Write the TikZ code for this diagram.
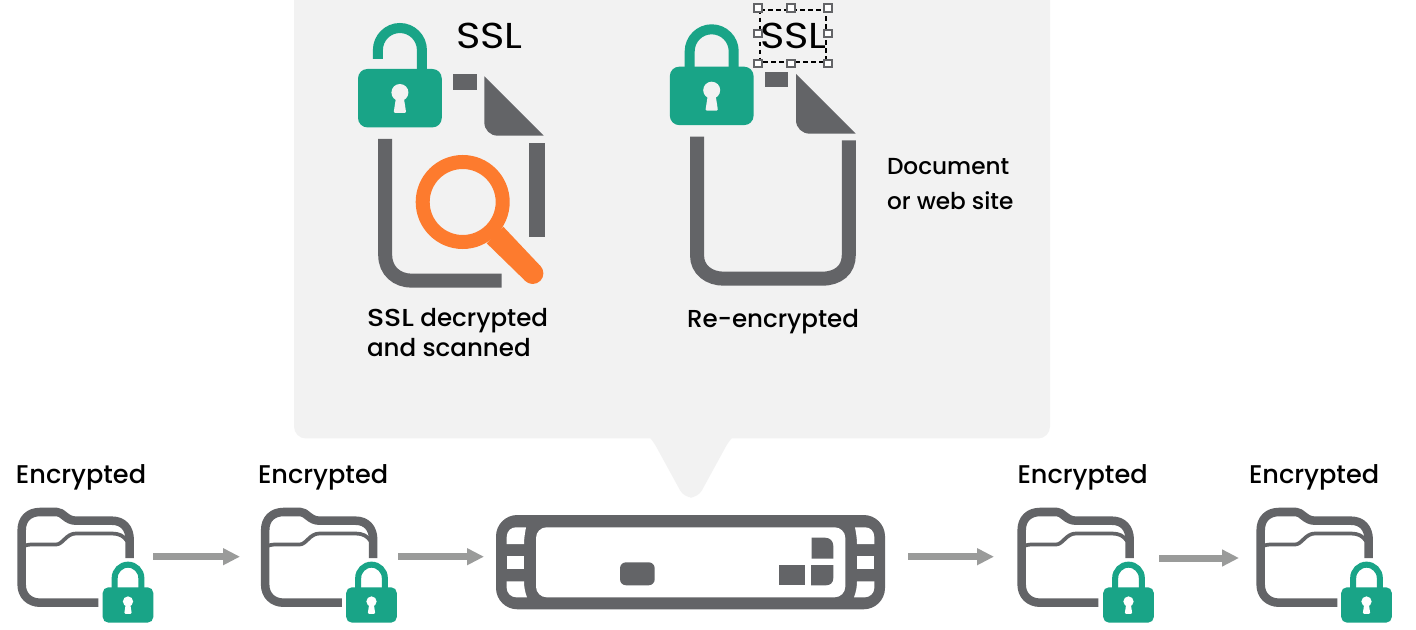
\documentclass[tikz,border=0pt]{standalone}
\usepackage{fontspec}
\setmainfont{Poppins}[UprightFont=* Medium]
\newfontface\sslface{Poppins Medium}[FakeStretch=1.16]
\newfontface\bigsslface{Poppins}[FakeStretch=1.15]
\usetikzlibrary{arrows.meta}
\definecolor{panel}{HTML}{F2F2F2}
\definecolor{slate}{HTML}{636467}
\definecolor{teal1}{HTML}{19A487}
\definecolor{orange1}{HTML}{FD7B2E}
\definecolor{arrowgray}{HTML}{9A9B9A}
\tikzset{
  x=0.75pt,y=-0.75pt,
  label/.style={inner sep=0pt,outer sep=0pt,text=black,font=\fontsize{19.2}{22.5}\selectfont,align=left},
  big/.style={inner sep=0pt,outer sep=0pt,text=black,font=\bigsslface\fontsize{27}{30}\selectfont},
  flow/.style={arrowgray,line width=5.25pt,-{Triangle[length=12.75pt,width=12pt]}},
  bar/.style={fill=slate,draw=none},
  stroke/.style={draw=slate,line width=10.5pt,line join=round},
  handle/.style={draw=slate,fill=white,line width=1.5pt,minimum size=0pt},
  hole/.style={fill=white,draw=none}
}
% #1 centre x, #2 body top y, #3 scale, #4 keyhole colour, #5 left-leg bottom y (local), #6 shackle lift
\newcommand{\lockicon}[6]{%
  \begin{scope}[shift={(#1,#2)},scale=#3]
    \pgfmathsetmacro\lsw{#3*7.5}
    \pgfmathsetmacro\lrc{#3*7}
    \pgfmathsetmacro\ltop{-37.4-#6}
    \pgfmathsetmacro\lleg{-15.4-#6}
    \pgfmathsetmacro\lctl{-27.5-#6}
    \draw[teal1,line width=\lsw pt]
      (-22,#5) -- (-22,\lleg) .. controls (-22,\lctl) and (-12.1,\ltop) .. (0,\ltop)
      .. controls (12.1,\ltop) and (22,\lctl) .. (22,\lleg) -- (22,2);
    \fill[teal1,rounded corners=\lrc pt] (-41.85,0) rectangle (41.85,58.4);
    \fill[#4] (0,23.5) circle (8.5);
    \fill[#4,rounded corners=1pt] (-3.5,26) -- (3.5,26) -- (6.3,44) -- (-6.3,44) -- cycle;
  \end{scope}}
% #1 x offset, #2 lock centre x
\newcommand{\foldericon}[2]{%
  \begin{scope}[shift={(#1,0)}]
    \draw[slate,line width=6.4pt,line join=round]
      (98.3,602.7) -- (40,602.7) .. controls (29,602.7) and (21.7,595) .. (21.7,585)
      -- (21.7,530) .. controls (21.7,519) and (29,512) .. (40,512)
      -- (57,512) .. controls (63,512) and (66,520.7) .. (76,520.7)
      -- (112,520.7) .. controls (123,520.7) and (129.7,528) .. (129.7,540) -- (129.7,558);
    \draw[slate,line width=2.8pt]
      (24,546) .. controls (28,544.5) and (30,544.5) .. (34,544.5)
      -- (56,544.5) .. controls (63,544.5) and (66,533.5) .. (76,533.5)
      -- (112,533.5) .. controls (119,533.5) and (124,536) .. (127,541);
  \end{scope}
  \lockicon{#2}{587.3}{0.605}{white}{2}{0}}
\begin{document}
\begin{tikzpicture}
\useasboundingbox (0,0) rectangle (1416,630);
\fill[white] (0,0) rectangle (1416,630);

% callout panel
\fill[panel,rounded corners=9pt]
  (294,-30) -- (294,438.5) -- (1050,438.5) -- (1050,-30) -- cycle;
\fill[panel,rounded corners=6pt]
  (642,430) -- (652,439) -- (684,497.5) -- (698,497.5) -- (730,439) -- (740,430) -- cycle;

% left document
\lockicon{399.9}{69}{1}{panel}{-10}{3.6}
\node[big,anchor=base west] (sslA) at (456,49) {SSL};
\fill[bar] (453.3,74) rectangle (477,90);
\fill[bar] (484.3,76.3) -- (543.7,135.7) -- (498,135.7)
  .. controls (490,135.7) and (484.3,130) .. (484.3,122) -- cycle;
\fill[bar] (529.3,143) rectangle (545.3,236.7);
\draw[stroke,line join=miter] (385.2,139) -- (385.2,255) .. controls (385.2,271) and (397,280.7) .. (412,280.7) -- (501.7,280.7);
\draw[orange1,line width=10.5pt] (462.7,202) circle (40);
\fill[orange1] (503.3,226.7) -- (540.2,265.8) -- (525.2,280.8) -- (486.7,243.3) -- cycle;
\fill[orange1] (532.7,273.3) circle (10.7);
\node[label,anchor=north west,font=\fontsize{18.4}{22.5}\selectfont] (scan) at (367,308) {{\sslface SSL} decrypted\\and scanned};

% right document
\lockicon{711.7}{66.7}{1}{panel}{2}{0}
\fill[bar] (765,72) rectangle (788.3,87.3);
\fill[bar] (796,74) -- (855.7,133.7) -- (810,133.7)
  .. controls (802,133.7) and (796,128) .. (796,120) -- cycle;
\draw[stroke,line join=miter] (697,136.7) -- (697,255) .. controls (697,270) and (709,278.7) .. (724,278.7)
  -- (822,278.7) .. controls (838,278.7) and (848.8,270) .. (848.8,255) -- (848.8,140.3);
\node[big,anchor=base west] (sslB) at (760,49) {SSL};
\draw[black,line width=1.5pt,dash pattern=on 3.4pt off 2.6pt] (759.7,9.7) rectangle (826,62);
\foreach \hx/\hy in {758/8,791/8,828/8,758/33.7,828/33.7,758/63.7,791/63.7,828/63.7}{
  \draw[handle] (\hx-3.8,\hy-3.8) rectangle (\hx+3.8,\hy+3.8);
}
\node[label,anchor=base west,font=\fontsize{18.4}{22.5}\selectfont] (reenc) at (687,328) {Re-encrypted};
\node[label,anchor=north west,font=\fontsize{17.4}{26.25}\selectfont] (doc) at (887,158) {Document\\or web site};

% device
\fill[slate,rounded corners=16pt] (496,515) rectangle (885,609.3);
\fill[hole,rounded corners=8pt] (536,527.3) rectangle (845.3,597.3);
\foreach \sh/\xs in {0/1,1381/-1}{
  \begin{scope}[shift={(\sh,0)},xscale=\xs]
    \fill[hole] (506.7,544) -- (506.7,537) .. controls (506.7,531) and (511,527.3) .. (516,527.3)
      -- (526,527.3) .. controls (525,533) and (524,538) .. (524,544) -- cycle;
    \fill[hole] (506.7,556) rectangle (524,568.7);
    \fill[hole] (506.7,581.3) -- (524,581.3) .. controls (524,587) and (525,592) .. (527,597.3)
      -- (516,597.3) .. controls (511,597.3) and (506.7,593) .. (506.7,588) -- cycle;
  \end{scope}
}
\fill[slate,rounded corners=4.5pt] (620,562.3) rectangle (654.7,585.3);
\fill[slate] (779.3,565) rectangle (805.3,585.3);
\fill[slate] (811,565) -- (833.3,565) -- (833.3,578) .. controls (833.3,583) and (830,585.3) .. (826,585.3) -- (811,585.3) -- cycle;
\fill[slate] (811.7,537.7) -- (825,537.7) .. controls (830,537.7) and (833.3,541) .. (833.3,546) -- (833.3,558.7) -- (811.7,558.7) -- cycle;

% folders
\foldericon{0}{128}
\foldericon{243.5}{371.5}
\foldericon{1000}{1128.5}
\foldericon{1239}{1366.5}
\node[label,anchor=base west] (e1) at (16,483) {Encrypted};
\node[label,anchor=base west] (e2) at (258,483) {Encrypted};
\node[label,anchor=base west] (e3) at (1017.5,483) {Encrypted};
\node[label,anchor=base west] (e4) at (1249,483) {Encrypted};

% flow arrows
\coordinate (a1s) at (153,556.7); \coordinate (a1e) at (240,556.7);
\coordinate (a2s) at (398,556.7); \coordinate (a2e) at (484,556.7);
\coordinate (a3s) at (908,556.7); \coordinate (a3e) at (994,556.7);
\coordinate (a4s) at (1159,558); \coordinate (a4e) at (1239,558);
\draw[flow] (a1s) -- (a1e);
\draw[flow] (a2s) -- (a2e);
\draw[flow] (a3s) -- (a3e);
\draw[flow] (a4s) -- (a4e);
\end{tikzpicture}
\end{document}
